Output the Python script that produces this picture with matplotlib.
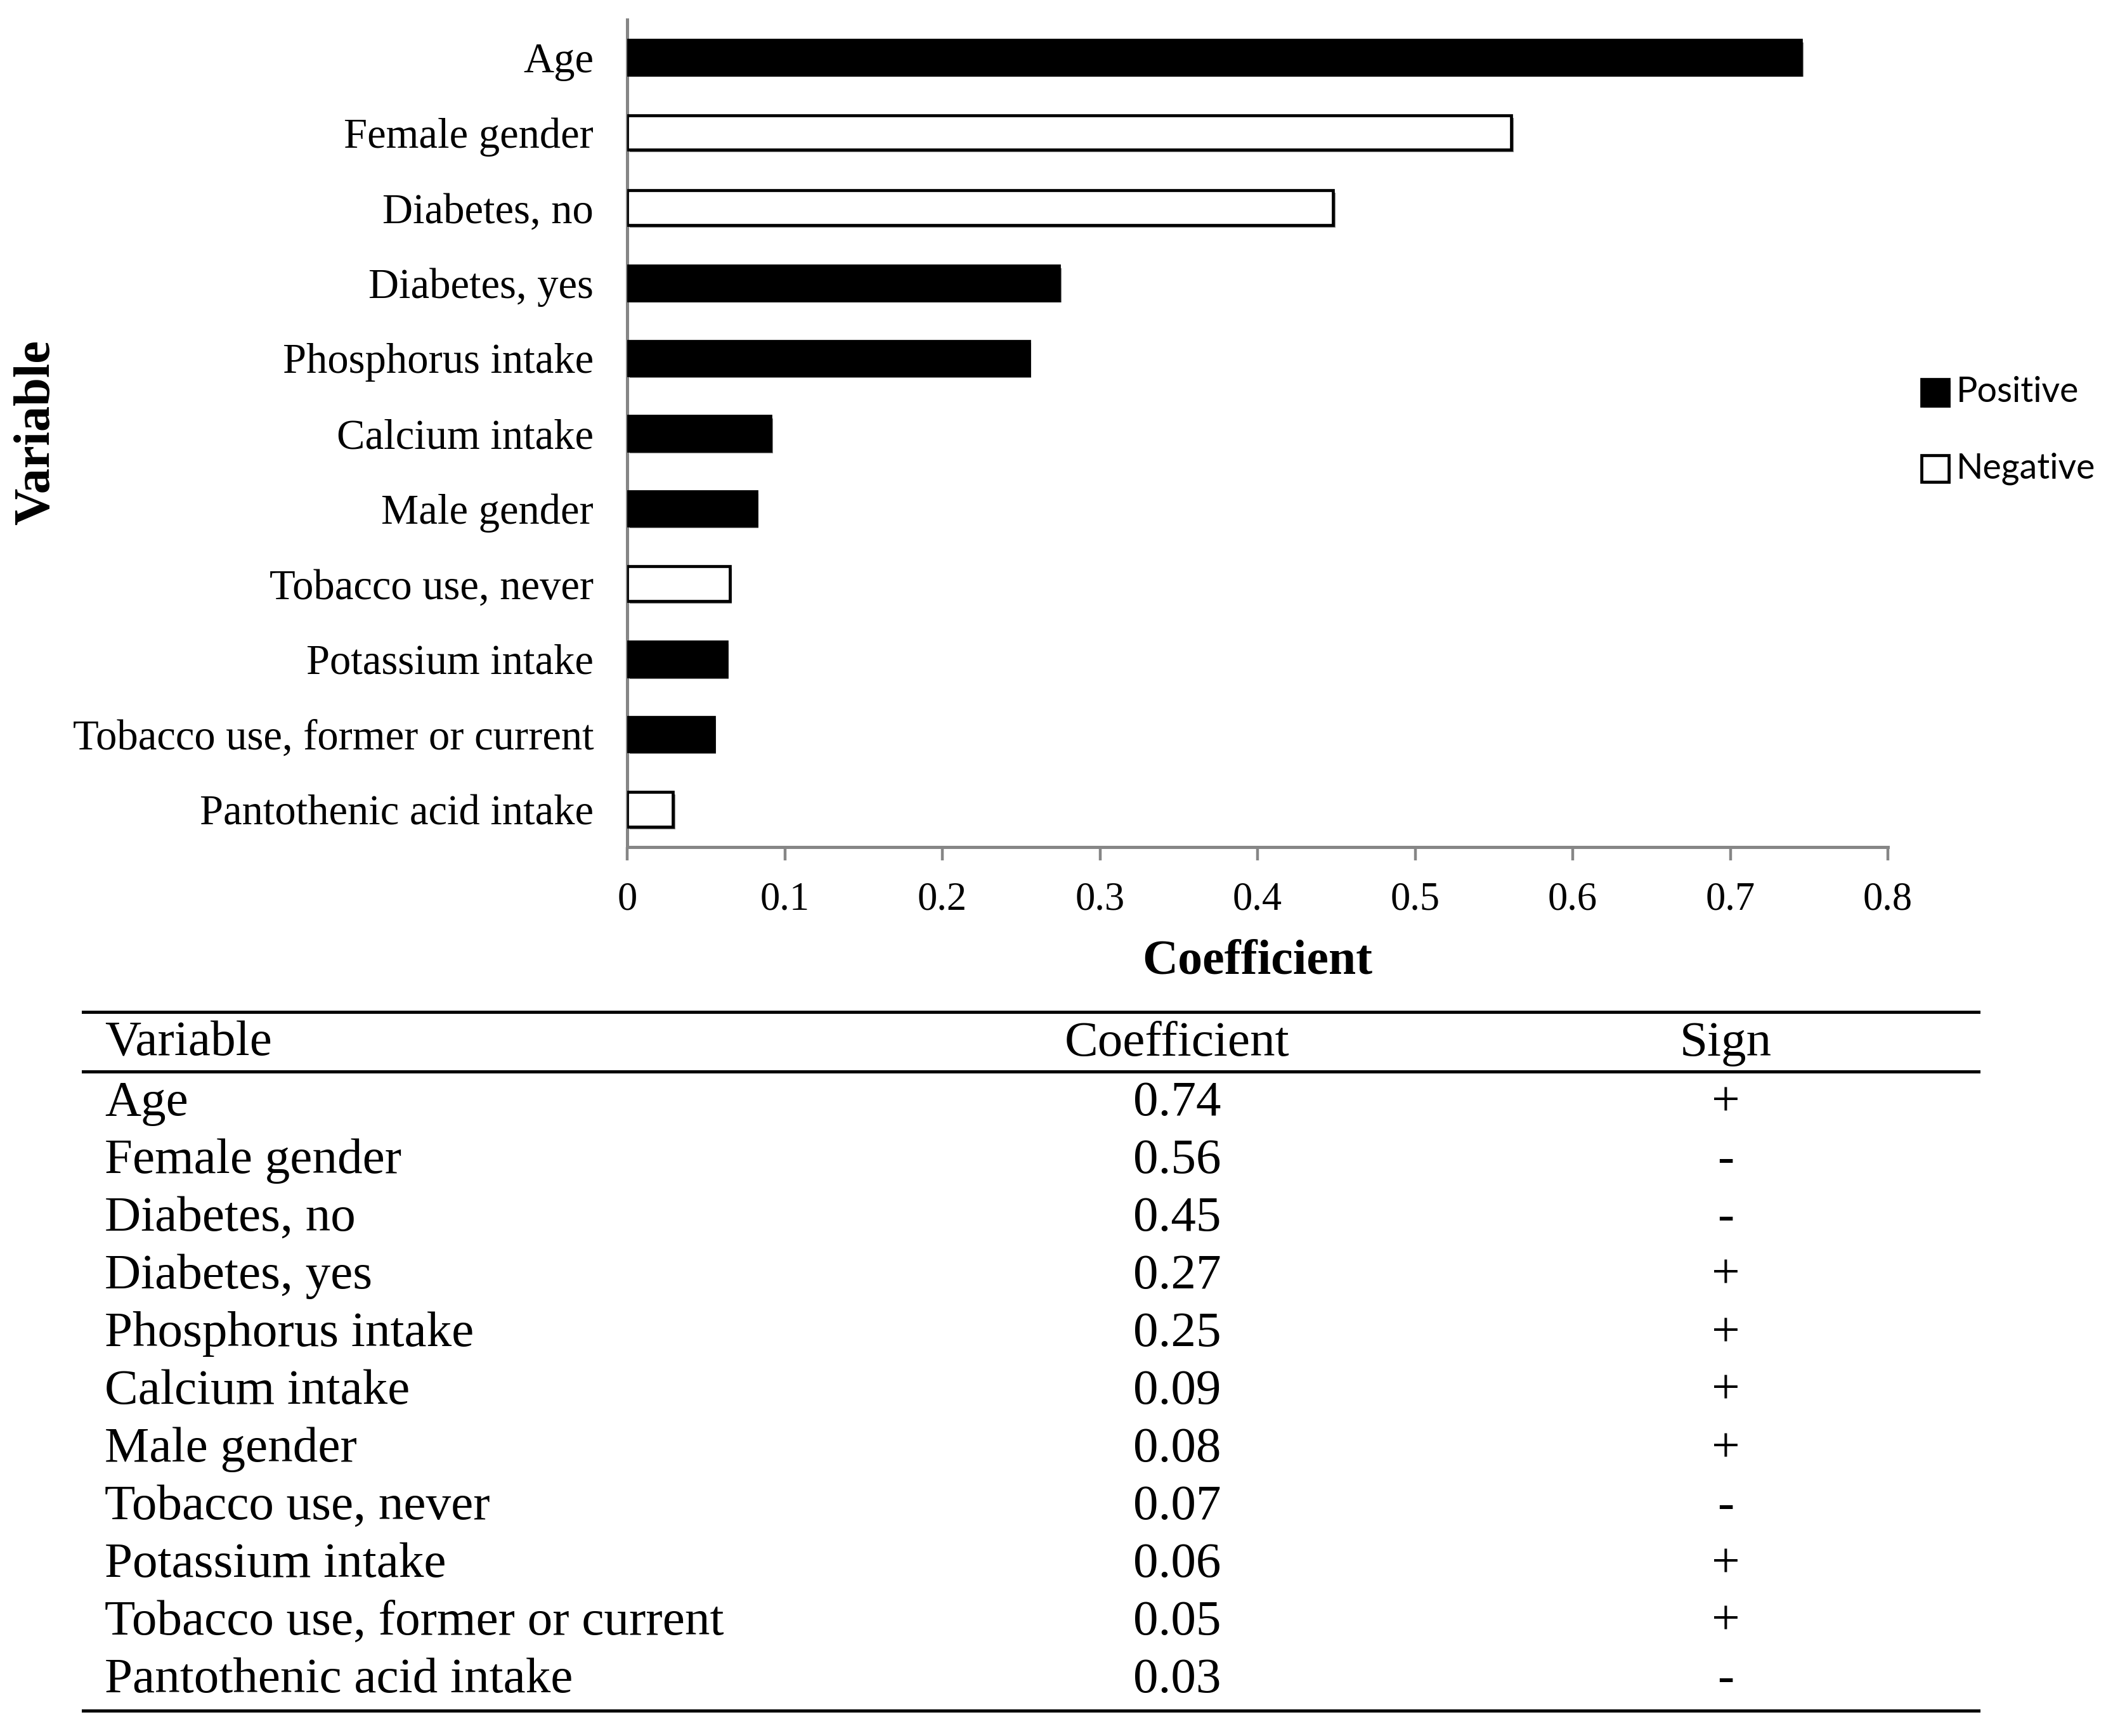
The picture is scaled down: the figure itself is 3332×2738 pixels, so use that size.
import matplotlib
matplotlib.use("Agg")
import matplotlib.pyplot as plt
import matplotlib.patheffects as pe
from matplotlib.patches import Rectangle
from matplotlib.lines import Line2D
import numpy as np

# ---------------- data ----------------
variables = ["Age", "Female gender", "Diabetes, no", "Diabetes, yes",
             "Phosphorus intake", "Calcium intake", "Male gender",
             "Tobacco use, never", "Potassium intake",
             "Tobacco use, former or current", "Pantothenic acid intake"]
bar_values = [0.745, 0.561, 0.448, 0.274, 0.255, 0.091, 0.082, 0.065,
              0.063, 0.055, 0.029]
signs = ["+", "-", "-", "+", "+", "+", "+", "-", "+", "+", "-"]
table_coefs = ["0.74", "0.56", "0.45", "0.27", "0.25", "0.09", "0.08",
               "0.07", "0.06", "0.05", "0.03"]
x_ticks = [0, 0.1, 0.2, 0.3, 0.4, 0.5, 0.6, 0.7, 0.8]
x_tick_labels = ["0", "0.1", "0.2", "0.3", "0.4", "0.5", "0.6", "0.7", "0.8"]
legend_labels = ["Positive", "Negative"]
table_headers = ["Variable", "Coefficient", "Sign"]

W, H = 3332, 2738
SERIF = ["Liberation Serif", "DejaVu Serif"]
SANS = ["Lato", "Liberation Sans", "DejaVu Sans"]

fig = plt.figure(figsize=(W / 100, H / 100), dpi=100)


def fx(px):
    return px / W


def fy(py):
    return 1 - py / H


# ---------------- bar chart ----------------
ax_left, ax_right, ax_top, ax_bot = 989, 2977, 31, 1336
ax = fig.add_axes([fx(ax_left), fy(ax_bot), fx(ax_right - ax_left),
                   (ax_bot - ax_top) / H])

ypos = np.arange(len(variables))
faces = ["black" if s == "+" else "white" for s in signs]
shadow = [pe.SimplePatchShadow(offset=(2.6, -2.8), shadow_rgbFace="#848484",
                               alpha=1.0), pe.Normal()]
bars = ax.barh(ypos, bar_values, height=0.46, color=faces,
               edgecolor="black", linewidth=3.4, zorder=3)
for b in bars:
    b.set_path_effects(shadow)

ax.set_xlim(0, 0.8)
ax.set_ylim(len(variables) - 0.5, -0.5)
ax.set_yticks(ypos)
ax.set_yticklabels(variables, family=SERIF, fontsize=48)
ax.set_xticks(x_ticks)
ax.set_xticklabels(x_tick_labels, family=SERIF, fontsize=45)
ax.tick_params(axis="y", length=0, pad=38)
ax.tick_params(axis="x", direction="out", length=15, width=3.2,
               color="#868686", pad=24)
for s in ["top", "right"]:
    ax.spines[s].set_visible(False)
for s in ["left", "bottom"]:
    ax.spines[s].set_color("#868686")
    ax.spines[s].set_linewidth(3.6)

ax.set_xlabel("Coefficient", family=SERIF, fontsize=56, fontweight="bold",
              labelpad=24)
fig.text(fx(58), fy(682), "Variable", family=SERIF, fontsize=58,
         fontweight="bold", rotation=90, ha="center", va="center")

# ---------------- legend ----------------
leg_y = [619, 739]
leg_face = ["black", "white"]
for lab, yc, fc in zip(legend_labels, leg_y, leg_face):
    r = Rectangle((fx(3030), fy(yc + 21)), 43 / W, 42 / H,
                  transform=fig.transFigure, facecolor=fc,
                  edgecolor="black", linewidth=3.4)
    r.set_path_effects([pe.SimplePatchShadow(offset=(2.5, -2.5),
                                             shadow_rgbFace="#848484",
                                             alpha=1.0), pe.Normal()])
    fig.add_artist(r)
    fig.text(fx(3085), fy(yc), lab, family=SANS, fontsize=40,
             ha="left", va="center")

# ---------------- table ----------------
tl, tr = 131, 3120
for yline in [1596, 1690, 2698]:
    fig.add_artist(Line2D([fx(tl), fx(tr)], [fy(yline), fy(yline)],
                          transform=fig.transFigure, color="black",
                          linewidth=3.6))

col_var_x, col_coef_x, col_sign_x = 165, 1856, 2721
head_base = 1665
fig.text(fx(col_var_x), fy(head_base), table_headers[0], family=SERIF,
         fontsize=57, ha="left", va="baseline")
fig.text(fx(col_coef_x), fy(head_base), table_headers[1], family=SERIF,
         fontsize=57, ha="center", va="baseline")
fig.text(fx(col_sign_x), fy(head_base), table_headers[2], family=SERIF,
         fontsize=57, ha="center", va="baseline")

row0, row_step = 1759, 91.0
for i, (v, c, s) in enumerate(zip(variables, table_coefs, signs)):
    yb = row0 + i * row_step
    fig.text(fx(col_var_x), fy(yb), v, family=SERIF, fontsize=57,
             ha="left", va="baseline")
    fig.text(fx(col_coef_x), fy(yb), c, family=SERIF, fontsize=57,
             ha="center", va="baseline")
    fig.text(fx(col_sign_x), fy(yb), s, family=SERIF, fontsize=57,
             ha="center", va="baseline")

fig.savefig("out.png", dpi=100, facecolor="white")
